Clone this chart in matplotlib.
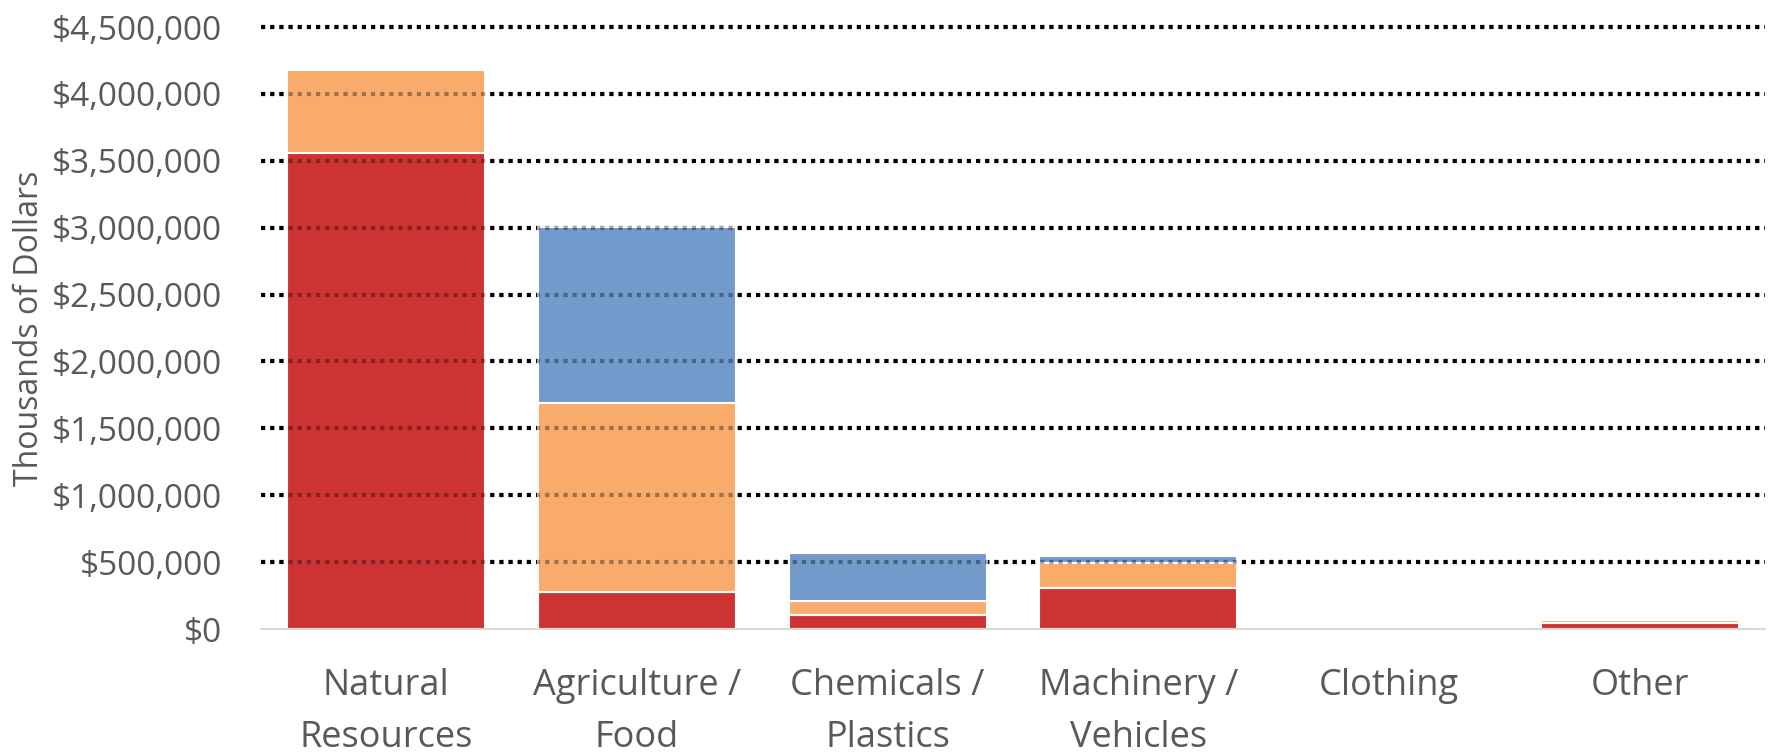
import numpy as np
import matplotlib.pyplot as plt
from matplotlib.ticker import FuncFormatter

categories = ["Natural\nResources", "Agriculture /\nFood", "Chemicals /\nPlastics",
              "Machinery /\nVehicles", "Clothing", "Other"]
# thousands of dollars, stacked bottom to top
bottom_vals = [3560000, 280000, 108000, 308000, 0, 48000]
middle_vals = [620000, 1412000, 98000, 184000, 0, 22000]
top_vals = [0, 1310000, 365000, 55000, 0, 0]

yticks = np.arange(0, 4500001, 500000)

red = "#CD3333"
orange = "#F8AB6B"
blue = "#729ACA"
label_color = "#595959"

plt.rcParams['font.family'] = ['Open Sans', 'DejaVu Sans']

fig = plt.figure(figsize=(17.69, 7.55), dpi=100)
ax = fig.add_axes([261 / 1769, 1 - 629 / 755, (1765 - 261) / 1769, (629 - 27) / 755])

x = np.arange(len(categories))
w = 0.79
b1 = np.array(bottom_vals)
b2 = b1 + np.array(middle_vals)
ax.bar(x, bottom_vals, w, color=red, edgecolor="white", linewidth=1.5, zorder=2)
ax.bar(x, middle_vals, w, bottom=b1, color=orange, edgecolor="white", linewidth=1.5, zorder=2)
ax.bar(x, top_vals, w, bottom=b2, color=blue, edgecolor="white", linewidth=1.5, zorder=2)

# dotted gridlines: solid black behind bars, darkened over bars
for yv in yticks[1:]:
    ax.axhline(yv, color="black", linestyle=(0, (1, 1.2)), linewidth=3, zorder=1, clip_on=False)
    ax.axhline(yv, color="black", alpha=0.35, linestyle=(0, (1, 1.2)), linewidth=3, zorder=3, clip_on=False)

ax.set_xlim(-0.5, len(categories) - 0.5)
ax.set_ylim(0, 4500000)
ax.set_yticks(yticks)
ax.yaxis.set_major_formatter(FuncFormatter(lambda v, p: "${:,.0f}".format(v)))
ax.set_xticks(x)
ax.set_xticklabels(categories, linespacing=1.6)
ax.tick_params(axis="y", length=0, pad=28, labelsize=24, labelcolor=label_color)
ax.tick_params(axis="x", length=0, pad=28, labelsize=26, labelcolor=label_color)

for s in ["top", "right", "left"]:
    ax.spines[s].set_visible(False)
ax.spines["bottom"].set_color("#D9D9D9")
ax.spines["bottom"].set_linewidth(1.5)
ax.spines["bottom"].set_zorder(4)

ax.set_ylabel("Thousands of Dollars", fontsize=23, color=label_color, labelpad=4)

fig.savefig("out.png", dpi=100)
